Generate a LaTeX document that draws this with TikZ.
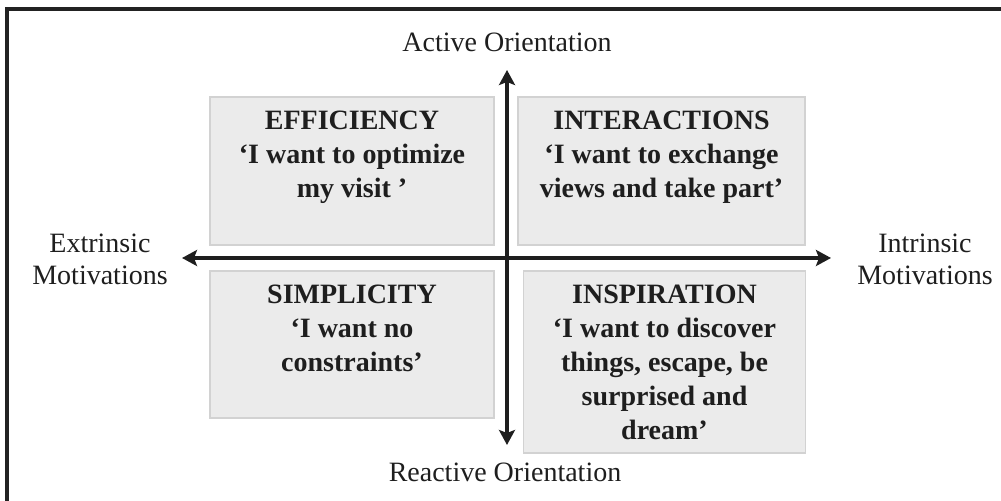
\documentclass[tikz,border=0pt]{standalone}
\usepackage{fontspec}
\setmainfont{Liberation Serif}
\usetikzlibrary{arrows.meta}

\definecolor{ink}{HTML}{1E1E1E}
\definecolor{frame}{HTML}{222222}
\definecolor{boxfill}{HTML}{EBEBEB}
\definecolor{boxline}{HTML}{D2D2D2}

\begin{document}
\begin{tikzpicture}[x=0.5pt,y=-0.5pt,
    quad/.style={draw=boxline, fill=boxfill, line width=0.6pt, inner sep=0pt},
    quadtxt/.style={anchor=north, align=center, inner sep=0pt, text=ink,
        font=\fontsize{14}{17}\selectfont\bfseries},
    lab/.style={align=center, inner sep=0pt, text=ink,
        font=\fontsize{14}{16}\selectfont},
    axis/.style={line width=2pt, draw=ink,
        {Stealth[length=7.5pt,width=8pt,inset=1.5pt]}-{Stealth[length=7.5pt,width=8pt,inset=1.5pt]}}]
    \useasboundingbox (0,0) rectangle (1001,501);
    % frame, only top and left edge fall inside the page
    \draw[line width=2pt, draw=frame] (7,9.5) rectangle (1020,520);

    % the four quadrants
    \node[quad, minimum width=142pt, minimum height=74pt] (eff) at (352,171) {};
    \node[quad, minimum width=143.5pt, minimum height=74pt] (inter) at (661.5,171) {};
    \node[quad, minimum width=142pt, minimum height=73.5pt] (simp) at (352,344.5) {};
    \node[quad, minimum width=141pt, minimum height=91pt] (insp) at (664.5,362) {};

    \node[quadtxt] (effTxt) at ([yshift=-7.2pt]eff.north)
        {EFFICIENCY\\`I want to optimize\\my visit '};
    \node[quadtxt] (interTxt) at ([yshift=-7.2pt]inter.north)
        {INTERACTIONS\\`I want to exchange\\views and take part'};
    \node[quadtxt] (simpTxt) at ([yshift=-7.2pt]simp.north)
        {SIMPLICITY\\`I want no\\constraints'};
    \node[quadtxt] (inspTxt) at ([yshift=-7.2pt]insp.north)
        {INSPIRATION\\`I want to discover\\things, escape, be\\surprised and\\dream'};

    % axes
    \coordinate (top) at (507,70);
    \coordinate (bot) at (507,445);
    \coordinate (lft) at (182,258);
    \coordinate (rgt) at (831,258);
    \draw[axis] (lft) -- (rgt);
    \draw[axis] (bot) -- (top);

    % axis labels
    \node[lab, anchor=base] (active) at (507,52) {Active Orientation};
    \node[lab, anchor=base] (reactive) at (505,482) {Reactive Orientation};
    \node[lab] (extr) at (100,259) {Extrinsic\\Motivations};
    \node[lab] (intr) at (925,259) {Intrinsic\\Motivations};
\end{tikzpicture}
\end{document}
